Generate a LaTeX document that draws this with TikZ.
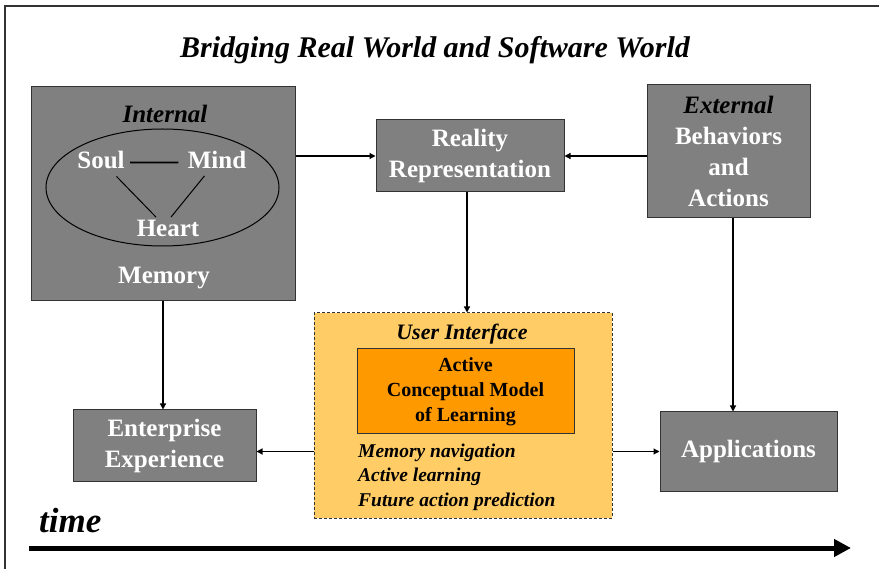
\documentclass[tikz,border=0pt]{standalone}
\usepackage{fontspec}
\setmainfont{Liberation Serif}
\usetikzlibrary{arrows.meta,shapes.geometric}
\definecolor{boxgray}{HTML}{808080}
\definecolor{uiyellow}{HTML}{FFCC66}
\definecolor{acmorange}{HTML}{FF9900}
\definecolor{edgegray}{HTML}{333333}

\begin{document}
\begin{tikzpicture}[x=1pt,y=-1pt,
    graybox/.style={draw=edgegray,line width=1pt,fill=boxgray,text=white,
      font=\fontsize{25}{31}\selectfont\bfseries,align=center},
    whitetext/.style={text=white,font=\fontsize{25}{30}\selectfont\bfseries},
    link/.style={-{Triangle[length=6pt,width=6pt]},line width=1.2pt}]
  \useasboundingbox (0,0) rectangle (879,569);
  \fill[white] (0,0) rectangle (879,569);
  \draw[line width=1.5pt,black!80] (5,6) rectangle (900,600);

  \node[font=\fontsize{30}{36}\selectfont\bfseries\itshape,anchor=base] (title) at (435,58)
    {Bridging Real World and Software World};

  % internal side
  \node[graybox,minimum width=264pt,minimum height=214pt] (mem) at (163,194) {};
  \node[font=\fontsize{25}{30}\selectfont\bfseries\itshape,anchor=base] (internal) at (165,123) {Internal};
  \node[draw,ellipse,line width=1pt,minimum width=233pt,minimum height=117pt] (ring) at (162.5,187.5) {};
  \node[whitetext,anchor=base] (soul) at (101,169) {Soul};
  \node[whitetext,anchor=base] (mind) at (217,169) {Mind};
  \node[whitetext,anchor=base] (heart) at (168,237) {Heart};
  \node[whitetext,anchor=base] (memlabel) at (164,284) {Memory};
  \draw[line width=1.8pt,shorten <=2pt,shorten >=6pt] ([yshift=-2pt]soul.east) -- ([yshift=-2pt]mind.west);
  \draw[line width=1pt,shorten <=5pt] (soul) -- ([xshift=-12pt]heart.north);
  \draw[line width=1pt,shorten <=4pt] (mind) -- ([xshift=3pt]heart.north);

  \node[graybox,minimum width=188pt,minimum height=72pt] (real) at (470,156) {Reality\\Representation};
  \node[graybox,minimum width=163pt,minimum height=133pt] (ext) at (728.5,151.5)
    {\textcolor{black}{\itshape External}\\Behaviors\\and\\Actions};

  % user interface
  \node[draw=edgegray,dash pattern=on 3pt off 2pt,line width=1pt,fill=uiyellow,
    minimum width=298pt,minimum height=205pt] (ui) at (463,415.5) {};
  \node[font=\fontsize{22}{26}\selectfont\bfseries\itshape,anchor=base] (uititle) at (462,340) {User Interface};
  \node[draw=edgegray,line width=1pt,fill=acmorange,minimum width=217pt,minimum height=85pt,
    align=center,font=\fontsize{20}{25}\selectfont\bfseries] (acm) at (465.5,391.5)
    {Active\\Conceptual Model\\of Learning};
  \node[anchor=west,inner sep=0pt,align=left,font=\fontsize{19.5}{24.5}\selectfont\bfseries\itshape]
    (tasks) at (358,477) {Memory navigation\\Active learning\\Future action prediction};

  \node[graybox,minimum width=183pt,minimum height=71pt] (ent) at (164.5,445.5) {Enterprise\\Experience};
  \node[graybox,minimum width=177pt,minimum height=79pt] (app) at (748.5,451.5) {Applications};

  \draw[link] (mem.east |- real) -- (real);
  \draw[link] (ext.west |- real) -- (real);
  \draw[link] ([xshift=-3pt]real.south) -- ([xshift=-3pt]real.south |- ui.north);
  \draw[link] (mem.south) -- (mem.south |- ent.north);
  \draw[link] (ui.west |- app) -- (ent.east |- app);
  \draw[link] ([xshift=4.5pt]ext.south) -- ([xshift=4.5pt]ext.south |- app.north);
  \draw[link] (ui.east |- app) -- (app);

  % time line
  \node[font=\fontsize{35}{40}\selectfont\bfseries\itshape,anchor=base west,inner sep=0pt] (timelabel) at (39,532) {time};
  \coordinate (tstart) at (29,548);
  \coordinate (tend) at (851,548);
  \draw[line width=5pt,-{Triangle[length=17pt,width=17pt]}] (tstart) -- (tend);
\end{tikzpicture}
\end{document}
